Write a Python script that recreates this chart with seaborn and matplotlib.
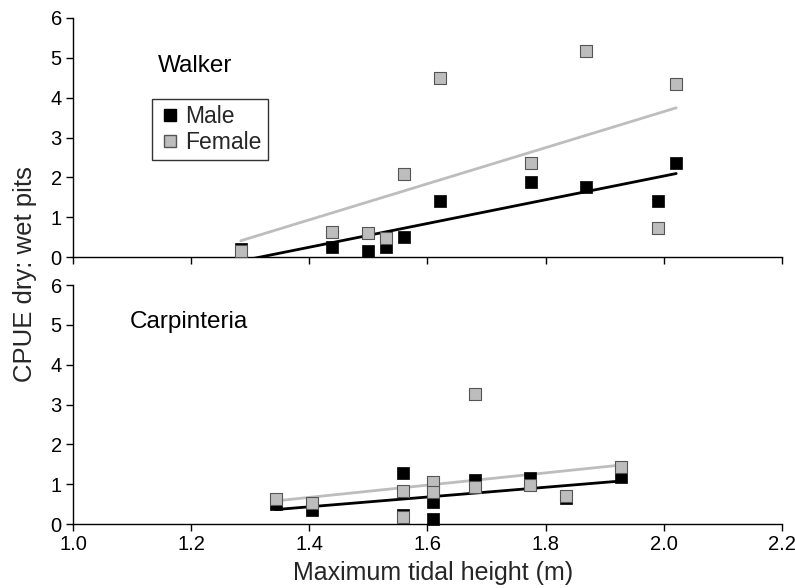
import numpy as np
import pandas as pd
import matplotlib
matplotlib.use("Agg")
import matplotlib.pyplot as plt
import seaborn as sns
from matplotlib.lines import Line2D

# Walker
walker_male_x = [1.284, 1.438, 1.499, 1.530, 1.560, 1.622, 1.776, 1.868, 1.991, 2.021]
walker_male_y = [0.20, 0.26, 0.16, 0.26, 0.49, 1.41, 1.88, 1.75, 1.41, 2.35]
walker_female_x = [1.284, 1.438, 1.499, 1.530, 1.560, 1.622, 1.776, 1.868, 1.991, 2.021]
walker_female_y = [0.15, 0.62, 0.60, 0.48, 2.09, 4.50, 2.37, 5.17, 0.74, 4.34]

# Carpinteria
carp_male_x = [1.343, 1.405, 1.559, 1.559, 1.610, 1.610, 1.681, 1.773, 1.835, 1.927]
carp_male_y = [0.50, 0.35, 1.29, 0.22, 0.56, 0.13, 1.10, 1.15, 0.66, 1.19]
carp_female_x = [1.343, 1.405, 1.559, 1.559, 1.610, 1.610, 1.681, 1.681, 1.773, 1.835, 1.927]
carp_female_y = [0.62, 0.52, 0.84, 0.18, 1.06, 0.80, 3.27, 0.94, 0.98, 0.70, 1.42]

x_ticks = [1.0, 1.2, 1.4, 1.6, 1.8, 2.0, 2.2]
x_labels = ['1.0', '1.2', '1.4', '1.6', '1.8', '2.0', '2.2']
y_ticks = [0, 1, 2, 3, 4, 5, 6]

sns.set_theme(style="ticks")
plt.rcParams['font.family'] = ['Liberation Sans', 'DejaVu Sans']

MALE_C = "black"
FEMALE_C = "#bdbdbd"

fig = plt.figure(figsize=(7.95, 5.88), dpi=100)
ax_top = fig.add_axes([0.0918, 0.5629, 0.8918, 0.4065])
ax_bot = fig.add_axes([0.0918, 0.1088, 0.8918, 0.4065])


def panel(ax, mx, my, fx, fy, name, tx, ty):
    dm = pd.DataFrame({'x': mx, 'y': my})
    df = pd.DataFrame({'x': fx, 'y': fy})
    sns.regplot(data=dm, x='x', y='y', ax=ax, ci=None, marker='s',
                color=MALE_C,
                scatter_kws={'s': 78, 'color': MALE_C, 'edgecolor': MALE_C,
                             'linewidths': 0.5, 'alpha': 1, 'zorder': 3},
                line_kws={'lw': 2.0, 'color': MALE_C, 'zorder': 2})
    sns.regplot(data=df, x='x', y='y', ax=ax, ci=None, marker='s',
                color=FEMALE_C,
                scatter_kws={'s': 78, 'color': FEMALE_C, 'edgecolor': '#555555',
                             'linewidths': 0.8, 'alpha': 1, 'zorder': 4},
                line_kws={'lw': 2.0, 'color': FEMALE_C, 'zorder': 1})
    ax.set_xlim(1.0, 2.2)
    ax.set_ylim(0, 6)
    ax.set_xticks(x_ticks)
    ax.set_yticks(y_ticks)
    ax.set_xlabel('')
    ax.set_ylabel('')
    ax.tick_params(axis='both', direction='out', length=5, width=1,
                   labelsize=14.5, colors='black', pad=3)
    for s in ['left', 'bottom']:
        ax.spines[s].set_color('black')
        ax.spines[s].set_linewidth(1.0)
    ax.spines['top'].set_visible(False)
    ax.spines['right'].set_visible(False)
    ax.text(tx, ty, name, transform=ax.transAxes, fontsize=17.5,
            ha='left', va='baseline', color='black')
    for c in ax.collections:
        c.set_clip_on(False)


panel(ax_top, walker_male_x, walker_male_y, walker_female_x, walker_female_y,
      'Walker', 0.12, 0.774)
panel(ax_bot, carp_male_x, carp_male_y, carp_female_x, carp_female_y,
      'Carpinteria', 0.080, 0.82)

ax_top.set_xticklabels([])
ax_bot.set_xticklabels(x_labels)

handles = [
    Line2D([], [], marker='s', ls='none', markersize=8.5, markerfacecolor=MALE_C,
           markeredgecolor=MALE_C, label='Male'),
    Line2D([], [], marker='s', ls='none', markersize=8.5, markerfacecolor=FEMALE_C,
           markeredgecolor='#555555', label='Female'),
]
leg = ax_top.legend(handles=handles, loc='upper left', bbox_to_anchor=(0.111, 0.661),
                    frameon=True, fancybox=False, fontsize=16.5, handletextpad=0.2,
                    handlelength=1.0, borderpad=0.28, labelspacing=0.1,
                    borderaxespad=0)
leg.get_frame().set_edgecolor('black')
leg.get_frame().set_linewidth(1.0)

fig.text(0.545, 0.005, 'Maximum tidal height (m)', ha='center', va='bottom', fontsize=18)
fig.text(0.031, 0.534, 'CPUE dry: wet pits', ha='center', va='center',
         rotation=90, fontsize=18.5)

fig.savefig('out.png', dpi=100)
